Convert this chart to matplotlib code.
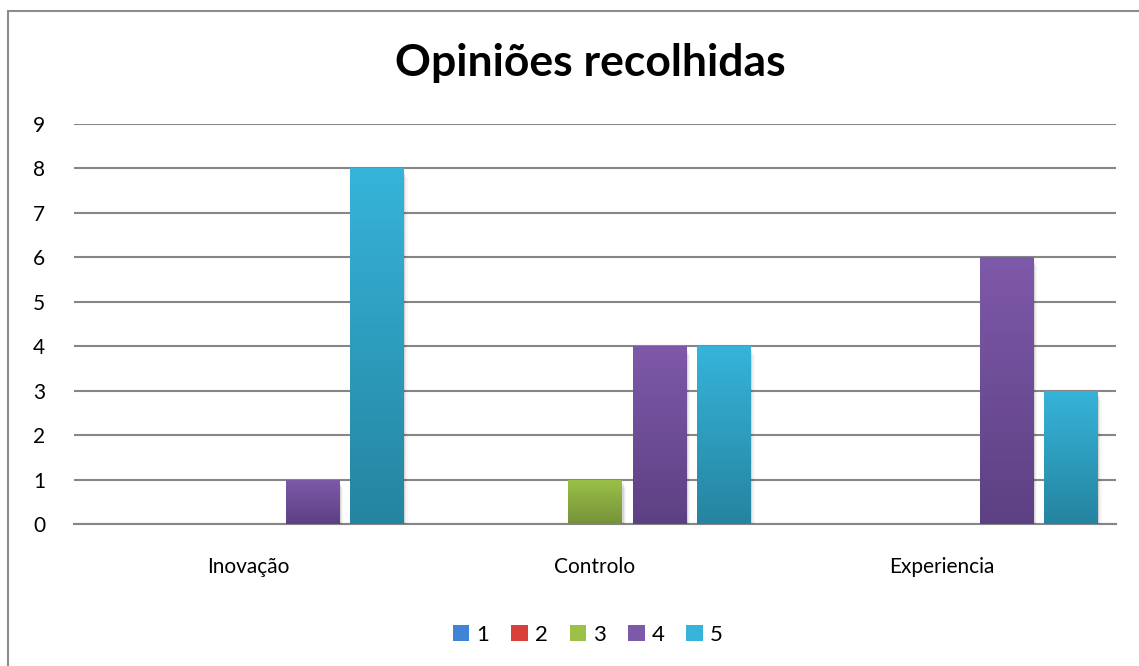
import numpy as np
import matplotlib.pyplot as plt
from matplotlib.colors import LinearSegmentedColormap
from matplotlib.patches import Rectangle

plt.rcParams['font.family'] = ['Lato', 'DejaVu Sans']

categories = ['Inovação', 'Controlo', 'Experiencia']
series_names = ['1', '2', '3', '4', '5']
values = {
    '1': [0, 0, 0],
    '2': [0, 0, 0],
    '3': [0, 1, 0],
    '4': [1, 4, 6],
    '5': [8, 4, 3],
}
# (top colour, bottom colour) for each series gradient
colors = {
    '1': ('#4183D7', '#2A5E9E'),
    '2': ('#D9403B', '#A42A27'),
    '3': ('#9BC147', '#76923A'),
    '4': ('#7E59A9', '#5D4083'),
    '5': ('#36B4DA', '#2584A0'),
}

fig = plt.figure(figsize=(11.39, 6.66), dpi=100)
ax = fig.add_axes([0.0654, 0.2132, 0.914, 0.6006])

x = np.arange(len(categories))
step = 0.1846
width = 0.153

for k, name in enumerate(series_names):
    top, bottom = colors[name]
    cmap = LinearSegmentedColormap.from_list(name, [bottom, top])
    offs = (k - 2) * step
    bars = ax.bar(x + offs, values[name], width, color=top, label=name,
                  zorder=3, linewidth=0)
    for b in bars:
        h = b.get_height()
        if h <= 0:
            continue
        bx, bw = b.get_x(), b.get_width()
        # soft drop shadow to the right and below
        for i, a in enumerate([0.09, 0.05, 0.03]):
            d = 0.004 * (i + 1)
            ax.add_patch(Rectangle((bx + 0.002, -0.05 * (i + 1)), bw + d,
                                   h - 0.05, facecolor='black',
                                   alpha=a, linewidth=0, zorder=2))
        # vertical gradient fill, darker toward the base
        grad = np.linspace(0, 1, 256).reshape(-1, 1)
        im = ax.imshow(grad, cmap=cmap, origin='lower', aspect='auto',
                       extent=(bx, bx + bw, 0, h), zorder=4,
                       interpolation='bilinear')
        im.set_clip_path(b)
        b.set_alpha(0)

ax.set_xlim(-0.5, len(categories) - 0.5)
ax.set_ylim(0, 9)
ax.set_yticks(range(0, 10))
ax.yaxis.grid(True, color='#868686', linewidth=1.5, zorder=1)
ax.set_axisbelow(True)
for s in ['top', 'right', 'left']:
    ax.spines[s].set_visible(False)
ax.spines['bottom'].set_color('#868686')
ax.spines['bottom'].set_linewidth(1.5)
ax.spines['bottom'].set_zorder(1)
ax.tick_params(axis='y', length=0, pad=21, labelsize=15)
ax.tick_params(axis='x', length=0, pad=24, labelsize=15)
ax.set_xticks(x)
ax.set_xticklabels(categories)

fig.text(0.518, 0.905, 'Opiniões recolhidas', ha='center', va='center',
         fontsize=32, fontweight='bold')

handles, labels = ax.get_legend_handles_labels()
leg = fig.legend(handles, labels, loc='center', bbox_to_anchor=(0.516, 0.047),
                 ncol=5, frameon=False, fontsize=16, handlelength=0.75,
                 handleheight=0.75, handletextpad=0.3, columnspacing=1.0)
for hd, name in zip(leg.legend_handles, series_names):
    hd.set_color(colors[name][0])
    hd.set_alpha(1)

# outer chart border
fig.add_artist(Rectangle((8 / 1139, -0.05), 1.2, 0.05 + (666 - 11) / 666,
                         transform=fig.transFigure, fill=False,
                         edgecolor='#8c8c8c', linewidth=1.5))

fig.savefig('out.png', dpi=100)
